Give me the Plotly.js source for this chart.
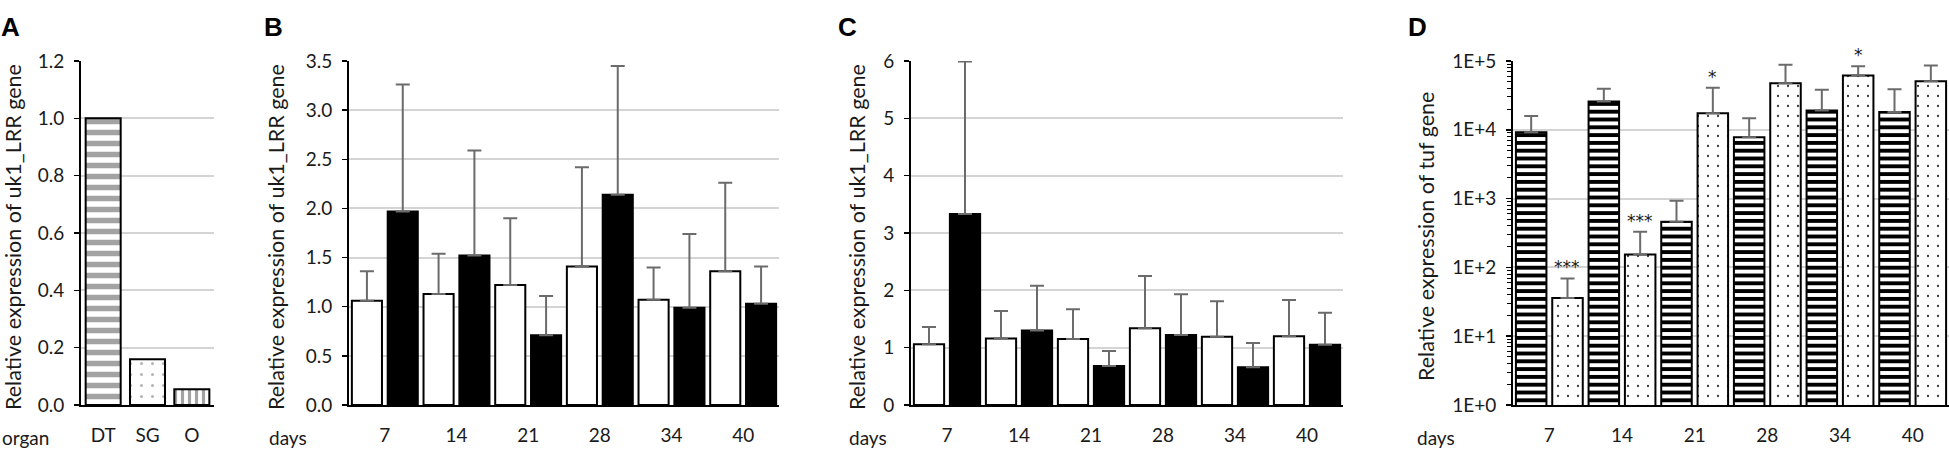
<!DOCTYPE html>
<html>
<head>
<meta charset="utf-8">
<script src="https://cdn.plot.ly/plotly-3.0.1.min.js"></script>
<style>
    body { margin: 0; background: white; }
</style>
</head>
<body>
<div id="fig"></div>
<script>
var W = 1949
var H = 450

// panel A
var organs = ["DT", "SG", "O"]
var organExpr = [1.0, 0.16, 0.055]

// panels B, C, D share the sampling days
var days = ["7", "14", "21", "28", "34", "40"]

var bWhite = [1.06, 1.13, 1.22, 1.41, 1.07, 1.36]
var bWhiteErr = [0.30, 0.41, 0.68, 1.01, 0.33, 0.90]
var bBlack = [1.97, 1.52, 0.71, 2.14, 0.99, 1.03]
var bBlackErr = [1.29, 1.07, 0.40, 1.31, 0.75, 0.38]

var cWhite = [1.06, 1.16, 1.15, 1.34, 1.19, 1.20]
var cWhiteErr = [0.30, 0.48, 0.52, 0.91, 0.62, 0.63]
var cBlack = [3.33, 1.30, 0.68, 1.22, 0.66, 1.05]
var cBlackErr = [2.66, 0.78, 0.26, 0.71, 0.42, 0.56]

var dStriped = [9200, 25700, 460, 7800, 19000, 18200]
var dStripedErr = [6700, 13700, 470, 6900, 19100, 20700]
var dDotted = [36, 154, 17400, 47500, 61500, 50800]
var dDottedErr = [33, 176, 23300, 40500, 22600, 35200]
var dDottedSig = ["***", "***", "*", "", "*", ""]

var logTickVals = [1, 10, 100, 1000, 10000, 100000]
var logTickText = ["1E+0", "1E+1", "1E+2", "1E+3", "1E+4", "1E+5"]

var FONT = "Lato, 'Open Sans', sans-serif"
var TXT = "#1a1a1a"
var ERRCOL = "#6b6b6b"

function px(x) { return x / W }
function py(y) { return 1 - y / H }

var yDom = [py(405), py(61)]

function errUp(vals) {
    return {
        type: "data",
        array: vals,
        arrayminus: vals.map(function () { return 0 }),
        symmetric: false,
        color: ERRCOL,
        thickness: 2,
        width: 7,
    }
}

function xAxis(domain, anchor, n) {
    return {
        domain: domain,
        anchor: anchor,
        type: "category",
        range: [-0.5, n - 0.5],
        showline: true,
        linecolor: "black",
        linewidth: 2,
        ticks: "",
        showgrid: false,
        zeroline: false,
        fixedrange: true,
        tickfont: { family: FONT, size: 19, color: TXT },
        ticklabelstandoff: 12,
    }
}

function yAxis(anchor, range, dtick, fmt) {
    return {
        domain: yDom,
        anchor: anchor,
        range: range,
        dtick: dtick,
        tick0: 0,
        tickformat: fmt,
        showline: true,
        linecolor: "black",
        linewidth: 2,
        ticks: "outside",
        ticklen: 5,
        tickwidth: 1.5,
        tickcolor: "black",
        showgrid: true,
        gridcolor: "#d4d4d4",
        gridwidth: 2,
        zeroline: false,
        fixedrange: true,
        tickfont: { family: FONT, size: 19, color: TXT },
        ticklabelstandoff: 6,
    }
}

var traces = [{
    type: "bar",
    x: organs,
    y: organExpr,
    xaxis: "x",
    yaxis: "y",
    width: 0.79,
    hoverinfo: "skip",
    marker: {
        color: "white",
        line: { color: "black", width: 2 },
        pattern: {
            shape: ["-", ".", "|"],
            fgcolor: ["#a3a3a3", "#b5b5b5", "#a3a3a3"],
            bgcolor: "white",
            size: [11, 11, 7],
            solidity: [0.5, 0.06, 0.45],
            fillmode: "replace",
        },
    },
}, {
    type: "bar", x: days, y: bWhite, xaxis: "x2", yaxis: "y2",
    hoverinfo: "skip",
    marker: { color: "white", line: { color: "black", width: 2 } },
    error_y: errUp(bWhiteErr),
}, {
    type: "bar", x: days, y: bBlack, xaxis: "x2", yaxis: "y2",
    hoverinfo: "skip",
    marker: { color: "black", line: { color: "black", width: 2 } },
    error_y: errUp(bBlackErr),
}, {
    type: "bar", x: days, y: cWhite, xaxis: "x3", yaxis: "y3",
    hoverinfo: "skip",
    marker: { color: "white", line: { color: "black", width: 2 } },
    error_y: errUp(cWhiteErr),
}, {
    type: "bar", x: days, y: cBlack, xaxis: "x3", yaxis: "y3",
    hoverinfo: "skip",
    marker: { color: "black", line: { color: "black", width: 2 } },
    error_y: errUp(cBlackErr),
}, {
    type: "bar", x: days, y: dStriped, xaxis: "x4", yaxis: "y4",
    hoverinfo: "skip",
    marker: {
        color: "white",
        line: { color: "black", width: 2 },
        pattern: { shape: "-", fgcolor: "black", bgcolor: "white", size: 7.8, solidity: 0.5, fillmode: "replace" },
    },
    error_y: errUp(dStripedErr),
}, {
    type: "bar", x: days, y: dDotted, xaxis: "x4", yaxis: "y4",
    hoverinfo: "skip",
    marker: {
        color: "white",
        line: { color: "black", width: 2 },
        pattern: { shape: ".", fgcolor: "#3a3a3a", bgcolor: "white", size: 10, solidity: 0.04, fillmode: "replace" },
    },
    error_y: errUp(dDottedErr),
}]

var layout = {
    width: W,
    height: H,
    margin: { t: 0, l: 0, r: 0, b: 0 },
    paper_bgcolor: "white",
    plot_bgcolor: "white",
    showlegend: false,
    barmode: "group",
    bargap: 0,
    bargroupgap: 0.16,
    xaxis: xAxis([px(81), px(214)], "y", organs.length),
    yaxis: yAxis("x", [0, 1.2], 0.2, ".1f"),
    xaxis2: xAxis([px(349), px(779)], "y2", days.length),
    yaxis2: yAxis("x2", [0, 3.5], 0.5, ".1f"),
    xaxis3: xAxis([px(911), px(1343)], "y3", days.length),
    yaxis3: yAxis("x3", [0, 6], 1, "d"),
    xaxis4: xAxis([px(1513), 1], "y4", days.length),
    yaxis4: yAxis("x4", [0, 5], null, null),
    annotations: [],
}
layout.yaxis4.type = "log"
layout.yaxis4.tickmode = "array"
layout.yaxis4.tickvals = logTickVals
layout.yaxis4.ticktext = logTickText
layout.yaxis4.minor = { dtick: "D1", ticks: "outside", ticklen: 4, tickwidth: 1, tickcolor: "black", showgrid: false }

function note(text, x, y, opts) {
    var a = {
        text: text,
        xref: "paper",
        yref: "paper",
        x: px(x),
        y: py(y),
        showarrow: false,
        xanchor: "center",
        yanchor: "middle",
        font: { family: FONT, size: 19, color: TXT },
    }
    for (var k in opts) a[k] = opts[k]
    layout.annotations.push(a)
}

var letterFont = { family: "'Liberation Sans', Arial, sans-serif", size: 26, color: "black" }
note("<b>A</b>", -1, 27, { xanchor: "left", font: letterFont })
note("<b>B</b>", 262, 27, { xanchor: "left", font: letterFont })
note("<b>C</b>", 836, 27, { xanchor: "left", font: letterFont })
note("<b>D</b>", 1406, 27, { xanchor: "left", font: letterFont })

var titleFont = { family: FONT, size: 21.5, color: TXT }
note("Relative expression of uk1_LRR gene", 13, 237, { textangle: -90, font: titleFont })
note("Relative expression of uk1_LRR gene", 276, 237, { textangle: -90, font: titleFont })
note("Relative expression of uk1_LRR gene", 857, 237, { textangle: -90, font: titleFont })
note("Relative expression of tuf gene", 1426, 237, { textangle: -90, font: titleFont })

note("organ", 0, 437, { xanchor: "left" })
note("days", 267, 437, { xanchor: "left" })
note("days", 847, 437, { xanchor: "left" })
note("days", 1415, 437, { xanchor: "left" })

// significance marks sit above the dotted bar of each day (second bar of the group)
dDottedSig.forEach(function (s, i) {
    if (!s) return
    layout.annotations.push({
        text: s,
        xref: "x4",
        yref: "y4",
        x: i,
        y: Math.log10(dDotted[i] + dDottedErr[i]),
        xshift: 18,
        yshift: -1,
        showarrow: false,
        xanchor: "center",
        yanchor: "bottom",
        font: { family: "'DejaVu Sans', sans-serif", size: 17, color: TXT },
    })
})

Plotly.newPlot(document.getElementById("fig"), traces, layout, { staticPlot: true, displayModeBar: false })
</script>
</body>
</html>
